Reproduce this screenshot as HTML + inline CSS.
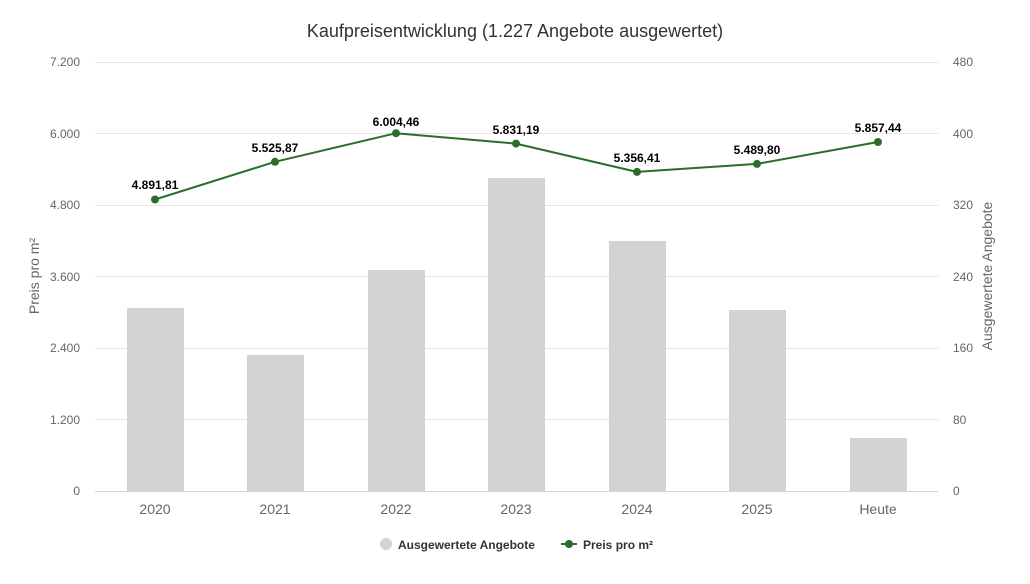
<!DOCTYPE html>
<html><head><meta charset="utf-8"><style>
body{margin:0;background:#fff}
svg text{font-family:"Liberation Sans",Arial,sans-serif}
</style></head><body>
<svg width="1030" height="579" viewBox="0 0 1030 579" xmlns="http://www.w3.org/2000/svg">
<rect width="1030" height="579" fill="#fff"/>
<text x="515" y="37" text-anchor="middle" font-size="18" fill="#333">Kaufpreisentwicklung (1.227 Angebote ausgewertet)</text>
<g stroke="#e6e6e6" stroke-width="1">
<line x1="95" x2="938" y1="62.5" y2="62.5"/>
<line x1="95" x2="938" y1="133.5" y2="133.5"/>
<line x1="95" x2="938" y1="205.5" y2="205.5"/>
<line x1="95" x2="938" y1="276.5" y2="276.5"/>
<line x1="95" x2="938" y1="348.5" y2="348.5"/>
<line x1="95" x2="938" y1="419.5" y2="419.5"/>
</g>
<line x1="95" x2="938" y1="491.5" y2="491.5" stroke="#ccd6eb"/>
<g font-size="12" fill="#666" text-anchor="end">
<text x="80" y="66">7.200</text><text x="80" y="138">6.000</text><text x="80" y="209">4.800</text>
<text x="80" y="281">3.600</text><text x="80" y="352">2.400</text><text x="80" y="424">1.200</text><text x="80" y="495">0</text>
</g>
<g font-size="12" fill="#666" text-anchor="start">
<text x="953" y="66">480</text><text x="953" y="138">400</text><text x="953" y="209">320</text>
<text x="953" y="281">240</text><text x="953" y="352">160</text><text x="953" y="424">80</text><text x="953" y="495">0</text>
</g>
<text transform="translate(39,276) rotate(-90)" text-anchor="middle" font-size="14" fill="#666">Preis pro m²</text>
<text transform="translate(992,276) rotate(-90)" text-anchor="middle" font-size="14" fill="#666">Ausgewertete Angebote</text>
<g fill="#d3d3d3">
<rect x="127" y="308" width="57" height="183"/>
<rect x="247" y="355" width="57" height="136"/>
<rect x="368" y="270" width="57" height="221"/>
<rect x="488" y="178" width="57" height="313"/>
<rect x="609" y="241" width="57" height="250"/>
<rect x="729" y="310" width="57" height="181"/>
<rect x="850" y="438" width="57" height="53"/>
</g>
<g font-size="14" fill="#666" text-anchor="middle">
<text x="155" y="514">2020</text><text x="275" y="514">2021</text><text x="396" y="514">2022</text>
<text x="516" y="514">2023</text><text x="637" y="514">2024</text><text x="757" y="514">2025</text><text x="878" y="514">Heute</text>
</g>
<polyline fill="none" stroke="#2a6e2a" stroke-width="2" points="155,199.5 275,161.8 396,133.2 516,143.6 637,171.9 757,163.9 878,142"/>
<g fill="#2a6e2a">
<circle cx="155" cy="199.5" r="4"/><circle cx="275" cy="161.8" r="4"/><circle cx="396" cy="133.2" r="4"/>
<circle cx="516" cy="143.6" r="4"/><circle cx="637" cy="171.9" r="4"/><circle cx="757" cy="163.9" r="4"/><circle cx="878" cy="142" r="4"/>
</g>
<g font-size="12" font-weight="bold" fill="#000" text-anchor="middle" stroke="#fff" stroke-width="3" paint-order="stroke">
<text x="155" y="189">4.891,81</text><text x="275" y="152">5.525,87</text><text x="396" y="126">6.004,46</text>
<text x="516" y="134">5.831,19</text><text x="637" y="162">5.356,41</text><text x="757" y="154">5.489,80</text><text x="878" y="132">5.857,44</text>
</g>
<circle cx="386" cy="544" r="6" fill="#d3d3d3"/>
<text x="398" y="549" font-size="12" font-weight="bold" fill="#333">Ausgewertete Angebote</text>
<line x1="561" x2="577" y1="544" y2="544" stroke="#2a6e2a" stroke-width="2"/>
<circle cx="569" cy="544" r="4" fill="#2a6e2a"/>
<text x="583" y="549" font-size="12" font-weight="bold" fill="#333">Preis pro m²</text>
</svg>
</body></html>
